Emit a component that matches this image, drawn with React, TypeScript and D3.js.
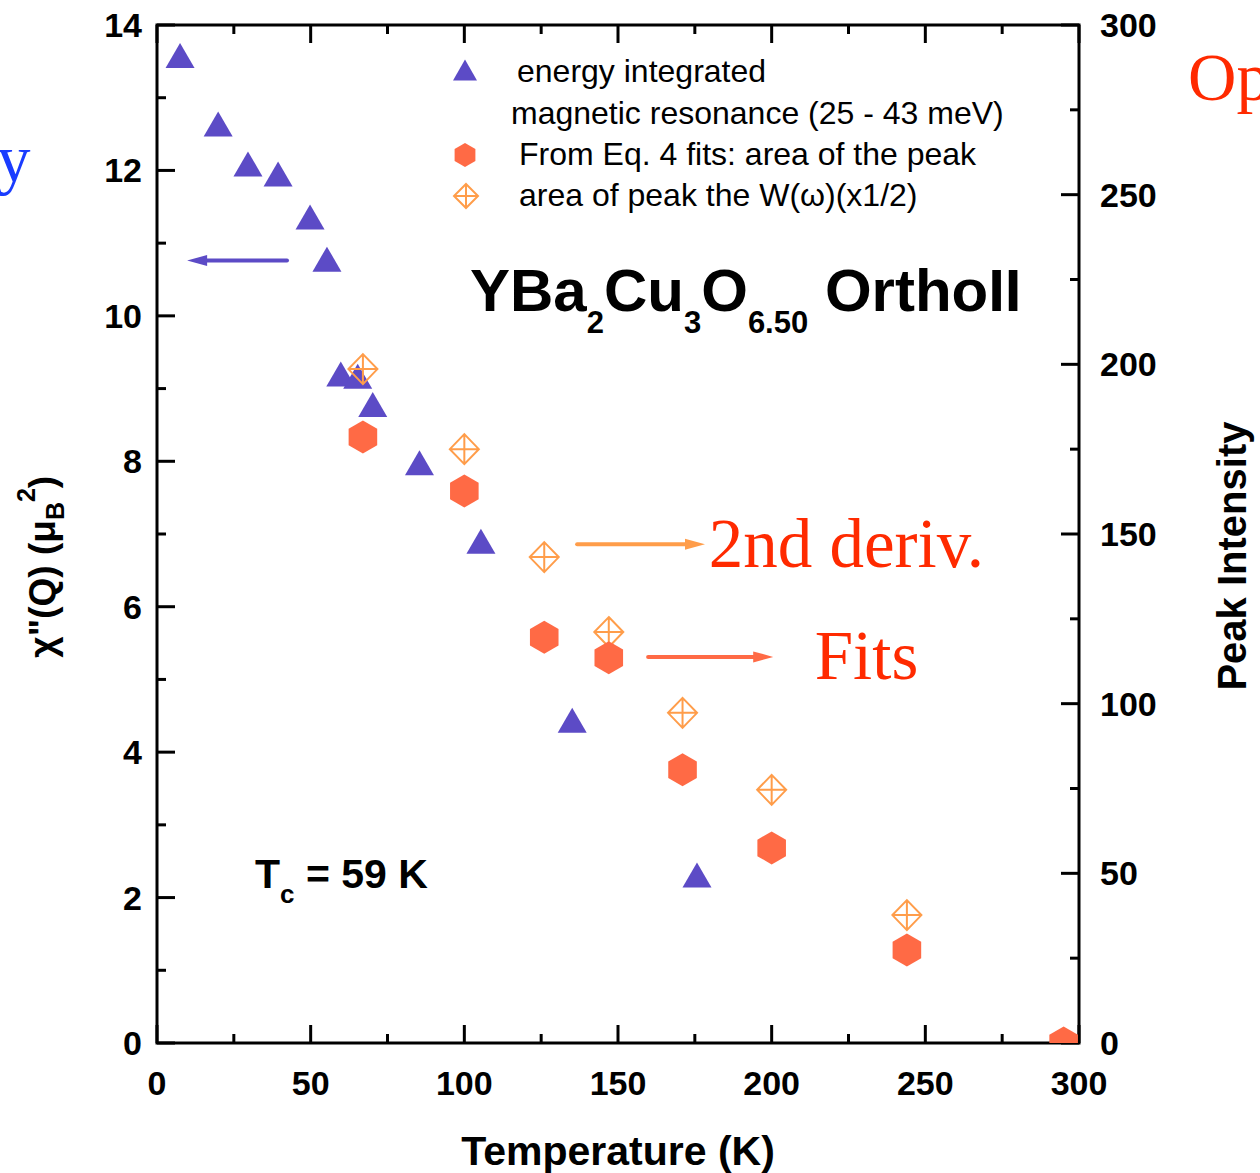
import React, { useEffect, useRef } from "react";
import * as d3 from "d3";

// energy integrated magnetic resonance, chi''(Q) in muB^2 (left axis)
const triTemps = [7.5, 19.9, 29.6, 39.4, 49.8, 55.3, 59.8, 65.3, 70.2, 85.4, 105.4, 135.1, 175.7];
const triChi = [13.58, 12.64, 12.09, 11.95, 11.36, 10.78, 9.2, 9.17, 8.78, 7.98, 6.9, 4.44, 2.31];

// Eq. 4 fits: area of the peak (right axis, peak intensity)
const fitTemps = [67, 100, 126, 147, 171, 200, 244, 295];
const fitArea = [178.6, 162.7, 119.6, 113.5, 80.5, 57.5, 27.4, 0];

// area of peak of W(omega) x 1/2 (right axis)
const derivTemps = [67, 100, 126, 147, 171, 200, 244];
const derivArea = [198.6, 175, 143.2, 121.1, 97.3, 74.6, 37.7];

const xTicks = [0, 50, 100, 150, 200, 250, 300];
const leftTicks = [0, 2, 4, 6, 8, 10, 12, 14];
const rightTicks = [0, 50, 100, 150, 200, 250, 300];

const legendLabels = [
  "energy integrated",
  "magnetic resonance (25 - 43 meV)",
  "From Eq. 4 fits: area of the peak",
  "area of peak the W(\u03c9)(x1/2)",
];

const PURPLE = "#5c4bc6";
const HEX = "#ff6a45";
const DIAM = "#ff9d4a";
const RED = "#ff2a00";
const SANS = "'Liberation Sans', Arial, Helvetica, sans-serif";
const SERIF = "'Liberation Serif', 'Times New Roman', serif";

function triPath(w: number, h: number) {
  const p = d3.path();
  p.moveTo(0, -h / 2);
  p.lineTo(w / 2, h / 2);
  p.lineTo(-w / 2, h / 2);
  p.closePath();
  return p.toString();
}

function hexPath(r: number) {
  const p = d3.path();
  for (let i = 0; i < 6; i++) {
    const a = (Math.PI / 3) * i - Math.PI / 2;
    const x = r * Math.cos(a);
    const y = r * Math.sin(a);
    if (i === 0) p.moveTo(x, y);
    else p.lineTo(x, y);
  }
  p.closePath();
  return p.toString();
}

function diamondPath(w: number, h: number) {
  return `M0,${-h / 2}L${w / 2},0L0,${h / 2}L${-w / 2},0Z M0,${-h / 2}V${h / 2} M${-w / 2},0H${w / 2}`;
}

export default function App() {
  const svgRef = useRef<SVGSVGElement>(null);

  useEffect(() => {
    const width = 1260;
    const height = 1173;
    const margin = { top: 25, right: 181, bottom: 130, left: 157 };
    const innerW = width - margin.left - margin.right;
    const innerH = height - margin.top - margin.bottom;

    const svg = d3.select(svgRef.current);
    svg.selectAll("*").remove();
    svg.attr("width", width).attr("height", height);

    const x = d3.scaleLinear().domain([0, 300]).range([0, innerW]);
    const yL = d3.scaleLinear().domain([0, 14]).range([innerH, 0]);
    const yR = d3.scaleLinear().domain([0, 300]).range([innerH, 0]);

    const g = svg.append("g").attr("transform", `translate(${margin.left},${margin.top})`);

    svg
      .append("defs")
      .append("clipPath")
      .attr("id", "plotClip")
      .append("rect")
      .attr("x", 0)
      .attr("y", 0)
      .attr("width", innerW)
      .attr("height", innerH);

    // frame
    g.append("rect")
      .attr("width", innerW)
      .attr("height", innerH)
      .attr("fill", "none")
      .attr("stroke", "#000")
      .attr("stroke-width", 3);

    const major = 18;
    const minor = 9;
    const tickStyle = (sel: any) => sel.attr("stroke", "#000").attr("stroke-width", 3);

    // x ticks (bottom & top, inward)
    d3.range(0, 301, 25).forEach((t) => {
      const len = t % 50 === 0 ? major : minor;
      tickStyle(g.append("line").attr("x1", x(t)).attr("x2", x(t)).attr("y1", innerH).attr("y2", innerH - len));
      tickStyle(g.append("line").attr("x1", x(t)).attr("x2", x(t)).attr("y1", 0).attr("y2", len));
    });
    // left ticks
    d3.range(0, 14.01, 1).forEach((v) => {
      const len = v % 2 === 0 ? major : minor;
      tickStyle(g.append("line").attr("x1", 0).attr("x2", len).attr("y1", yL(v)).attr("y2", yL(v)));
    });
    // right ticks
    d3.range(0, 301, 25).forEach((v) => {
      const len = v % 50 === 0 ? major : minor;
      tickStyle(g.append("line").attr("x1", innerW).attr("x2", innerW - len).attr("y1", yR(v)).attr("y2", yR(v)));
    });

    const tickFont = (sel: any) =>
      sel.attr("font-family", SANS).attr("font-weight", "bold").attr("font-size", 34).attr("fill", "#000");

    xTicks.forEach((t) => {
      tickFont(g.append("text"))
        .attr("x", x(t))
        .attr("y", innerH + 52)
        .attr("text-anchor", "middle")
        .text(t);
    });
    leftTicks.forEach((v) => {
      tickFont(g.append("text"))
        .attr("x", -15)
        .attr("y", yL(v) + 12)
        .attr("text-anchor", "end")
        .text(v);
    });
    rightTicks.forEach((v) => {
      tickFont(g.append("text"))
        .attr("x", innerW + 21)
        .attr("y", yR(v) + 12)
        .attr("text-anchor", "start")
        .text(v);
    });

    // axis titles
    g.append("text")
      .attr("x", innerW / 2)
      .attr("y", innerH + 122)
      .attr("text-anchor", "middle")
      .attr("font-family", SANS)
      .attr("font-weight", "bold")
      .attr("font-size", 41)
      .text("Temperature (K)");

    const lt = g
      .append("text")
      .attr("transform", `translate(-102,${yL(6.55)}) rotate(-90)`)
      .attr("text-anchor", "middle")
      .attr("font-family", SANS)
      .attr("font-weight", "bold")
      .attr("font-size", 37);
    lt.append("tspan").text("\u03c7\"(Q) (\u03bc");
    lt.append("tspan").attr("font-size", 25).attr("dy", 9).text("B");
    lt.append("tspan").attr("font-size", 25).attr("dy", -29).text("2");
    lt.append("tspan").attr("dy", 20).text(")");

    g.append("text")
      .attr("transform", `translate(${innerW + 167},${yR(143.5)}) rotate(-90)`)
      .attr("text-anchor", "middle")
      .attr("font-family", SANS)
      .attr("font-weight", "bold")
      .attr("font-size", 40)
      .text("Peak Intensity");

    // data
    const plot = g.append("g").attr("clip-path", "url(#plotClip)");

    plot
      .selectAll(".tri")
      .data(triTemps.map((t, i) => [t, triChi[i]]))
      .join("path")
      .attr("d", triPath(29, 25))
      .attr("transform", (d) => `translate(${x(d[0])},${yL(d[1])})`)
      .attr("fill", PURPLE);

    plot
      .selectAll(".diam")
      .data(derivTemps.map((t, i) => [t, derivArea[i]]))
      .join("path")
      .attr("d", diamondPath(29, 30))
      .attr("transform", (d) => `translate(${x(d[0])},${yR(d[1])})`)
      .attr("fill", "none")
      .attr("stroke", DIAM)
      .attr("stroke-width", 2);

    plot
      .selectAll(".hex")
      .data(fitTemps.map((t, i) => [t, fitArea[i]]))
      .join("path")
      .attr("d", hexPath(16.5))
      .attr("transform", (d) => `translate(${x(d[0])},${yR(d[1])})`)
      .attr("fill", HEX);

    // arrows
    const arrow = (t1: number, t2: number, yv: number, color: string) => {
      const y0 = yL(yv);
      const dir = Math.sign(t2 - t1);
      const xEnd = x(t2);
      g.append("line")
        .attr("x1", x(t1))
        .attr("x2", xEnd - dir * 16)
        .attr("y1", y0)
        .attr("y2", y0)
        .attr("stroke", color)
        .attr("stroke-width", 4)
        .attr("stroke-linecap", "round");
      g.append("path")
        .attr("d", `M${xEnd},${y0}L${xEnd - dir * 20},${y0 - 5.5}L${xEnd - dir * 20},${y0 + 5.5}Z`)
        .attr("fill", color);
    };
    arrow(42.3, 9.8, 10.76, PURPLE);
    arrow(136.7, 178.3, 6.86, DIAM);
    arrow(159.8, 200.5, 5.31, HEX);

    // annotations
    g.append("text")
      .attr("x", x(179.5))
      .attr("y", yL(6.85) + 22)
      .attr("font-family", SERIF)
      .attr("font-size", 69)
      .attr("fill", RED)
      .text("2nd deriv.");
    g.append("text")
      .attr("x", x(214))
      .attr("y", yL(5.31) + 22)
      .attr("font-family", SERIF)
      .attr("font-size", 69)
      .attr("fill", RED)
      .text("Fits");
    svg
      .append("text")
      .attr("x", 1188)
      .attr("y", 100)
      .attr("font-family", SERIF)
      .attr("font-size", 67)
      .attr("fill", RED)
      .text("Op");
    svg
      .append("text")
      .attr("x", -3)
      .attr("y", 182)
      .attr("font-family", SERIF)
      .attr("font-size", 67)
      .attr("fill", "#1a3cff")
      .text("y");

    // title
    const title = g
      .append("text")
      .attr("x", 313)
      .attr("y", 286)
      .attr("font-family", SANS)
      .attr("font-weight", "bold")
      .attr("font-size", 60);
    const parts: [string, boolean][] = [
      ["YBa", false],
      ["2", true],
      ["Cu", false],
      ["3", true],
      ["O", false],
      ["6.50", true],
      [" OrthoII", false],
    ];
    let shifted = false;
    parts.forEach(([s, sub]) => {
      const ts = title.append("tspan").text(s);
      if (sub) {
        ts.attr("font-size", 31).attr("dy", 22);
        shifted = true;
      } else {
        ts.attr("dy", shifted ? -22 : 0);
        shifted = false;
      }
    });

    // Tc label
    const tc = g
      .append("text")
      .attr("x", 98)
      .attr("y", 863)
      .attr("font-family", SANS)
      .attr("font-weight", "bold")
      .attr("font-size", 41);
    tc.append("tspan").text("T");
    tc.append("tspan").attr("font-size", 26).attr("dy", 15).text("c");
    tc.append("tspan").attr("dy", -15).text(" = 59 K");

    // legend
    const lg = g.append("g");
    lg.append("path").attr("d", triPath(24, 21)).attr("transform", "translate(308,45)").attr("fill", PURPLE);
    lg.append("path").attr("d", hexPath(12)).attr("transform", "translate(308,130)").attr("fill", HEX);
    lg.append("path")
      .attr("d", diamondPath(24, 24))
      .attr("transform", "translate(309,171)")
      .attr("fill", "none")
      .attr("stroke", DIAM)
      .attr("stroke-width", 2);
    const legendPos: [number, number][] = [
      [360, 57],
      [354, 99],
      [362, 140],
      [362, 181],
    ];
    legendLabels.forEach((s, i) => {
      lg.append("text")
        .attr("x", legendPos[i][0])
        .attr("y", legendPos[i][1])
        .attr("font-family", SANS)
        .attr("font-size", 32)
        .attr("fill", "#000")
        .text(s);
    });
  }, []);

  return (
    <div style={{ position: "absolute", left: 0, top: 0, background: "#fff" }}>
      <svg ref={svgRef} style={{ display: "block" }} />
    </div>
  );
}
